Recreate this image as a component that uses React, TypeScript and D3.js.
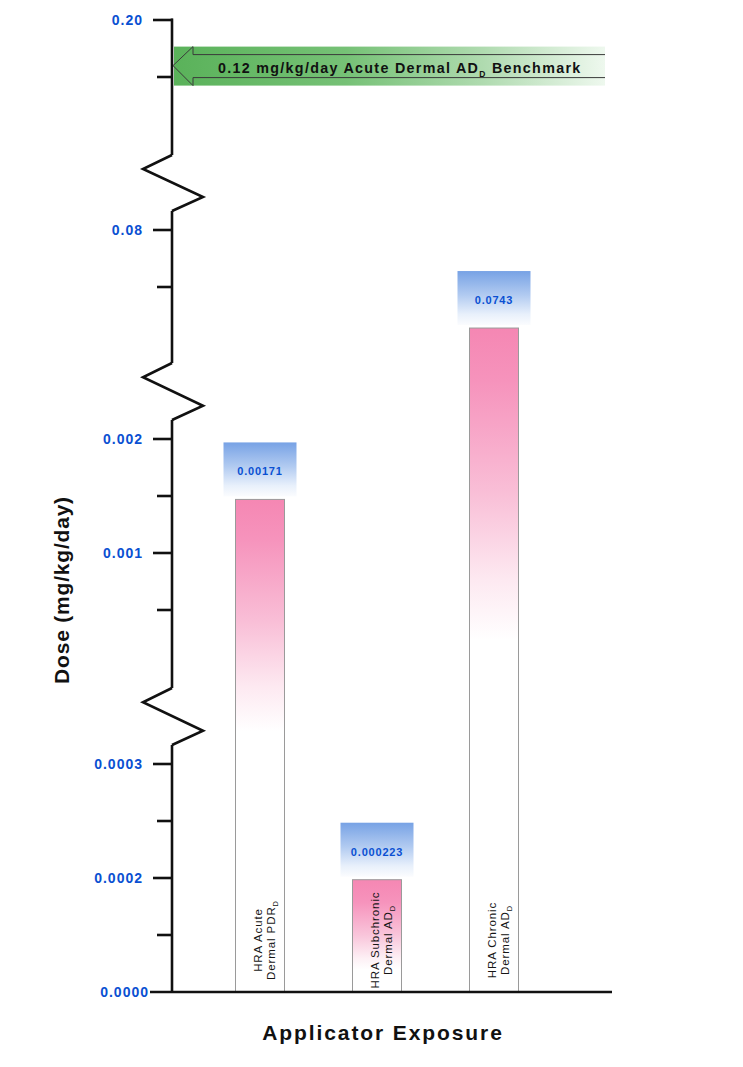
import React from "react";
import * as d3 from "d3";

// ---------- data ----------
const categories = ["HRA Acute Dermal PDR", "HRA Subchronic Dermal AD", "HRA Chronic Dermal AD"];
const categoryLine1 = ["HRA Acute", "HRA Subchronic", "HRA Chronic"];
const categoryLine2 = ["Dermal PDR", "Dermal AD", "Dermal AD"];
const categorySub = ["D", "D", "D"];
const barValues = [0.00171, 0.000223, 0.0743];
const barValueLabels = ["0.00171", "0.000223", "0.0743"];
const barAxisLevels = [0.00147, 0.000197, 0.0628];

const benchmarkValue = 0.12;
const benchmarkLabel = "0.12 mg/kg/day Acute Dermal AD";

const majorTickValues = [0.2, 0.08, 0.002, 0.001, 0.0003, 0.0002, 0];
const majorTickLabels = ["0.20", "0.08", "0.002", "0.001", "0.0003", "0.0002", "0.0000"];
const minorTickValues = [0.1, 0.07, 0.0015, 0.0005, 0.00025, 0.0001];

// ---------- broken-axis layout ----------
const AXIS_X = 172;
const segments = [
  { lo: 0.09, hi: 0.21, scale: d3.scaleLinear().domain([0.1, 0.2]).range([77, 20]), y0: 18.5, y1: 155 },
  { lo: 0.05, hi: 0.085, scale: d3.scaleLinear().domain([0.07, 0.08]).range([287, 230]), y0: 211, y1: 363 },
  { lo: 0.0004, hi: 0.0025, scale: d3.scaleLinear().domain([0.001, 0.002]).range([553, 439]), y0: 420, y1: 688 },
  { lo: 0, hi: 0.00035, scale: d3.scaleLinear().domain([0, 0.0002, 0.0003]).range([992, 878, 764]), y0: 745, y1: 992 },
];
const y = (v: number) => {
  const s = segments.find((g) => v >= g.lo && v <= g.hi) || segments[segments.length - 1];
  return s.scale(v);
};

const x = d3.scalePoint<string>().domain(categories).range([260, 494]);
const BAR_W = 49;

const FONT = "'Liberation Sans', Arial, Helvetica, sans-serif";
const BLUE = "#0a50d2";

export default function App() {
  const breakPath = (yTop: number, yBot: number) => {
    const h = yBot - yTop;
    const p = d3.path();
    p.moveTo(AXIS_X, yTop);
    p.lineTo(AXIS_X - 29, yTop + h * 0.25);
    p.lineTo(AXIS_X + 31, yTop + h * 0.75);
    p.lineTo(AXIS_X, yBot);
    return p.toString();
  };

  const by = y(benchmarkValue);

  return (
    <svg
      width={743}
      height={1067}
      style={{ position: "absolute", left: 0, top: 0, background: "#fff" }}
      fontFamily={FONT}
    >
      <defs>
        <linearGradient id="barGrad" x1="0" y1="0" x2="0" y2="1">
          <stop offset="0" stopColor="#f587b3" />
          <stop offset="0.08" stopColor="#f693bc" />
          <stop offset="0.25" stopColor="#f9bfd7" />
          <stop offset="0.38" stopColor="#fde9f1" />
          <stop offset="0.47" stopColor="#ffffff" />
          <stop offset="1" stopColor="#ffffff" />
        </linearGradient>
        <linearGradient id="barGradShort" x1="0" y1="0" x2="0" y2="1">
          <stop offset="0" stopColor="#f587b3" />
          <stop offset="0.2" stopColor="#f693bc" />
          <stop offset="0.5" stopColor="#f9c6db" />
          <stop offset="0.7" stopColor="#fdf0f5" />
          <stop offset="0.8" stopColor="#ffffff" />
          <stop offset="1" stopColor="#ffffff" />
        </linearGradient>
        <linearGradient id="boxGrad" x1="0" y1="0" x2="0" y2="1">
          <stop offset="0" stopColor="#77a2e5" />
          <stop offset="0.45" stopColor="#b2cbf1" />
          <stop offset="0.8" stopColor="#e8f0fb" />
          <stop offset="1" stopColor="#fbfcfe" />
        </linearGradient>
        <linearGradient id="greenGrad" x1="0" y1="0" x2="1" y2="0">
          <stop offset="0" stopColor="#5ab25a" />
          <stop offset="0.4" stopColor="#76c176" />
          <stop offset="0.72" stopColor="#b0dbb0" />
          <stop offset="1" stopColor="#eef8ee" />
        </linearGradient>
      </defs>

      {/* benchmark arrow */}
      <rect x={AXIS_X + 2} y={by - 19} width={431} height={39} fill="url(#greenGrad)" />
      <path
        d={`M605,${by - 11} L193,${by - 11} L193,${by - 19} L${AXIS_X + 1},${by} L193,${by + 20} L193,${by + 12} L605,${by + 12}`}
        fill="none"
        stroke="#3a3a3a"
        strokeWidth={1}
      />
      <text x={218} y={by + 7} fontSize={14.3} fontWeight="bold" fill="#111" letterSpacing={1.3}>
        {benchmarkLabel}
        <tspan fontSize={8.5} dy={4}>D</tspan>
        <tspan dy={-4}> Benchmark</tspan>
      </text>

      {/* bars */}
      {categories.map((c, i) => {
        const cx = x(c)!;
        const top = y(barAxisLevels[i]);
        const bottom = y(0);
        const h = bottom - top;
        return (
          <g key={c}>
            <rect
              x={cx - BAR_W / 2}
              y={top}
              width={BAR_W}
              height={h}
              fill={h < 200 ? "url(#barGradShort)" : "url(#barGrad)"}
              stroke="#9a9a9a"
              strokeWidth={1}
            />
            <rect x={cx - 36.5} y={top - 57} width={73} height={54} fill="url(#boxGrad)" />
            <text
              x={cx}
              y={top - 24}
              textAnchor="middle"
              fontSize={11}
              fontWeight="bold"
              fill={BLUE}
              letterSpacing={0.8}
              data-value={barValues[i]}
            >
              {barValueLabels[i]}
            </text>
            <g transform={`translate(${cx},940) rotate(-90)`}>
              <text x={0} y={1.5} textAnchor="middle" fontSize={11.5} fill="#161616" letterSpacing={0.9}>
                {categoryLine1[i]}
              </text>
              <text x={0} y={15} textAnchor="middle" fontSize={11.5} fill="#161616" letterSpacing={0.9}>
                {categoryLine2[i]}
                <tspan fontSize={7.5} dy={3}>{categorySub[i]}</tspan>
              </text>
            </g>
          </g>
        );
      })}

      {/* y axis segments */}
      {segments.map((s, i) => (
        <line key={i} x1={AXIS_X} x2={AXIS_X} y1={s.y0} y2={s.y1} stroke="#111" strokeWidth={2.6} />
      ))}
      {segments.slice(0, -1).map((s, i) => (
        <path
          key={"b" + i}
          d={breakPath(s.y1, segments[i + 1].y0)}
          fill="none"
          stroke="#111"
          strokeWidth={2.6}
          strokeLinejoin="miter"
        />
      ))}
      {/* x axis */}
      <line x1={150} x2={612} y1={y(0)} y2={y(0)} stroke="#111" strokeWidth={2.6} />

      {/* ticks */}
      {majorTickValues.map((v, i) => (
        <g key={"M" + i}>
          {v !== 0 && (
            <line x1={153} x2={AXIS_X + 1} y1={y(v)} y2={y(v)} stroke="#111" strokeWidth={2.6} />
          )}
          <text
            x={v === 0 ? 149 : 143}
            y={y(v)}
            dy="0.36em"
            textAnchor="end"
            fontSize={14}
            fontWeight="bold"
            fill={BLUE}
            letterSpacing={1}
          >
            {majorTickLabels[i]}
          </text>
        </g>
      ))}
      {minorTickValues.map((v, i) => (
        <line key={"m" + i} x1={157} x2={AXIS_X} y1={y(v)} y2={y(v)} stroke="#111" strokeWidth={2.6} />
      ))}

      {/* axis titles */}
      <text
        transform={`translate(69,590) rotate(-90)`}
        textAnchor="middle"
        fontSize={21}
        fontWeight="bold"
        fill="#111"
        letterSpacing={0.8}
      >
        Dose (mg/kg/day)
      </text>
      <text x={383} y={1040} textAnchor="middle" fontSize={21} fontWeight="bold" fill="#111" letterSpacing={1.9}>
        Applicator Exposure
      </text>
    </svg>
  );
}
